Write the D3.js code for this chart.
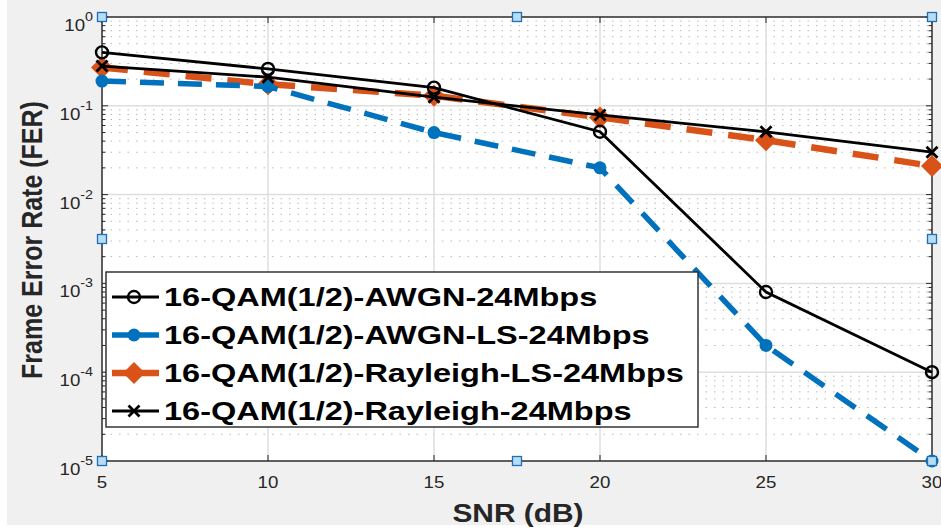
<!DOCTYPE html>
<html>
<head>
<meta charset="utf-8">
<script src="https://d3js.org/d3.v7.min.js"></script>
<style>
  body { margin: 0; background: #fff; }
  text { font-family: "Liberation Sans", Arial, sans-serif; }
</style>
</head>
<body>
<svg id="chart"></svg>
<script>
const snr = [5, 10, 15, 20, 25, 30];
const awgn = [0.40, 0.26, 0.16, 0.051, 8e-4, 1e-4];
const awgnLS = [0.19, 0.165, 0.05, 0.02, 2e-4, 1e-5];
const rayleighLS = [0.27, 0.175, 0.13, 0.074, 0.041, 0.021];
const rayleigh = [0.28, 0.21, 0.125, 0.079, 0.051, 0.03];
const seriesNames = [
  "16-QAM(1/2)-AWGN-24Mbps",
  "16-QAM(1/2)-AWGN-LS-24Mbps",
  "16-QAM(1/2)-Rayleigh-LS-24Mbps",
  "16-QAM(1/2)-Rayleigh-24Mbps"
];
const xTicks = [5, 10, 15, 20, 25, 30];
const yDecades = [0, -1, -2, -3, -4, -5];

const width = 941, height = 529;
const svg = d3.select("#chart").attr("width", width).attr("height", height);

// figure background
svg.append("rect").attr("x", 7).attr("y", 0).attr("width", width - 7).attr("height", 525).attr("fill", "#f0f0f0");

const pL = 102, pR = 932, pT = 17, pB = 461;
const x = d3.scaleLinear().domain([5, 30]).range([pL, pR]);
const y = d3.scaleLog().domain([1e-5, 1]).range([pB, pT]);

// the source picture is stretched sideways, so text gets a horizontal scale
function stretchedText(g, tx, ty, sx, rot) {
  return g.append("text").attr("transform", `translate(${tx},${ty})${rot ? ` rotate(${rot})` : ""} scale(${rot ? 1 : sx},${rot ? sx : 1})`);
}

svg.append("rect").attr("x", pL).attr("y", pT).attr("width", pR - pL).attr("height", pB - pT).attr("fill", "#fff");

// minor grid (dotted)
const minors = [];
for (let e = -5; e < 0; e++) for (let k = 2; k <= 9; k++) minors.push(k * Math.pow(10, e));
svg.append("g").selectAll("line").data(minors).join("line")
  .attr("x1", pL).attr("x2", pR)
  .attr("y1", d => y(d)).attr("y2", d => y(d))
  .attr("stroke", "#b8b8b8").attr("stroke-width", 1).attr("stroke-dasharray", "1.5,7");

// major grid
svg.append("g").selectAll("line").data(yDecades).join("line")
  .attr("x1", pL).attr("x2", pR)
  .attr("y1", d => y(Math.pow(10, d))).attr("y2", d => y(Math.pow(10, d)))
  .attr("stroke", "#dedede").attr("stroke-width", 1.5);
svg.append("g").selectAll("line").data(xTicks).join("line")
  .attr("y1", pT).attr("y2", pB)
  .attr("x1", d => x(d)).attr("x2", d => x(d))
  .attr("stroke", "#dedede").attr("stroke-width", 1.5);

// axes (box with ticks on all sides)
const axisColor = "#262626";
const tickLen = 6;
const ticksG = svg.append("g").attr("stroke", axisColor).attr("stroke-width", 1);
xTicks.forEach(t => {
  ticksG.append("line").attr("x1", x(t)).attr("x2", x(t)).attr("y1", pB).attr("y2", pB - tickLen);
  ticksG.append("line").attr("x1", x(t)).attr("x2", x(t)).attr("y1", pT).attr("y2", pT + tickLen);
});
yDecades.forEach(d => {
  const yy = y(Math.pow(10, d));
  ticksG.append("line").attr("x1", pL).attr("x2", pL + tickLen).attr("y1", yy).attr("y2", yy);
  ticksG.append("line").attr("x1", pR).attr("x2", pR - tickLen).attr("y1", yy).attr("y2", yy);
});
minors.forEach(m => {
  const yy = y(m);
  ticksG.append("line").attr("x1", pL).attr("x2", pL + 3.5).attr("y1", yy).attr("y2", yy);
  ticksG.append("line").attr("x1", pR).attr("x2", pR - 3.5).attr("y1", yy).attr("y2", yy);
});
svg.append("rect").attr("x", pL).attr("y", pT).attr("width", pR - pL).attr("height", pB - pT)
  .attr("fill", "none").attr("stroke", axisColor).attr("stroke-width", 1.4);

// tick labels
const tl = svg.append("g").attr("fill", axisColor).attr("font-size", 17);
xTicks.forEach(t => {
  stretchedText(tl, x(t), pB + 27, 1.1).attr("text-anchor", "middle").text(t);
});
yDecades.forEach(d => {
  const t = stretchedText(tl, pL - 9, y(Math.pow(10, d)) + 14, 1.1).attr("text-anchor", "end");
  t.append("tspan").text("10");
  t.append("tspan").attr("font-size", 13).attr("dy", -10).text(d);
});

// axis titles
stretchedText(svg, 518, 522, 1.15).attr("text-anchor", "middle")
  .attr("font-size", 26).attr("font-weight", "bold").attr("fill", axisColor).text("SNR (dB)");
stretchedText(svg, 42, 240, 1.2, -90).attr("text-anchor", "middle")
  .attr("font-size", 25).attr("font-weight", "bold").attr("fill", axisColor)
  .text("Frame Error Rate (FER)");

// series
const series = [
  { name: seriesNames[0], vals: awgn, color: "#000", width: 2.8, dash: null, marker: "circle" },
  { name: seriesNames[1], vals: awgnLS, color: "#0072BD", width: 5.5, dash: "24,14", marker: "dot" },
  { name: seriesNames[2], vals: rayleighLS, color: "#D95319", width: 6.5, dash: "26,16", marker: "diamond" },
  { name: seriesNames[3], vals: rayleigh, color: "#000", width: 2.8, dash: null, marker: "x" }
];

function drawMarker(g, type, color, cx, cy) {
  if (type === "circle") {
    g.append("circle").attr("cx", cx).attr("cy", cy).attr("r", 6)
      .attr("fill", "none").attr("stroke", color).attr("stroke-width", 2.4);
  } else if (type === "dot") {
    g.append("circle").attr("cx", cx).attr("cy", cy).attr("r", 6.5).attr("fill", color);
  } else if (type === "diamond") {
    const s = 11;
    g.append("path").attr("d", `M${cx},${cy - s}L${cx + s},${cy}L${cx},${cy + s}L${cx - s},${cy}Z`).attr("fill", color);
  } else if (type === "x") {
    const s = 5.5;
    g.append("path").attr("d", `M${cx - s},${cy - s}L${cx + s},${cy + s}M${cx - s},${cy + s}L${cx + s},${cy - s}`)
      .attr("stroke", color).attr("stroke-width", 2.8);
  }
}

const line = d3.line().x(d => x(d[0])).y(d => y(d[1]));
const plotG = svg.append("g");
[2, 1, 0, 3].forEach(i => {
  const s = series[i];
  const pts = snr.map((v, j) => [v, s.vals[j]]);
  plotG.append("path").attr("d", line(pts)).attr("fill", "none")
    .attr("stroke", s.color).attr("stroke-width", s.width)
    .attr("stroke-dasharray", s.dash);
  pts.forEach(p => drawMarker(plotG, s.marker, s.color, x(p[0]), y(p[1])));
});

// legend
const lg = svg.append("g");
lg.append("rect").attr("x", 106).attr("y", 272).attr("width", 592).attr("height", 155)
  .attr("fill", "#fff").attr("stroke", axisColor).attr("stroke-width", 1.4);
series.forEach((s, i) => {
  const yy = 297 + i * 38;
  lg.append("line").attr("x1", 112).attr("x2", 159).attr("y1", yy).attr("y2", yy)
    .attr("stroke", s.color).attr("stroke-width", s.width);
  drawMarker(lg, s.marker, s.color, 134, yy);
  stretchedText(lg, 164, yy + 9, 1.3).attr("font-size", 25).attr("font-weight", "bold")
    .attr("fill", "#000").text(s.name);
});

// selection handles
const handles = [[pL, pT], [(pL + pR) / 2, pT], [pR, pT], [pL, (pT + pB) / 2], [pR, (pT + pB) / 2],
  [pL, pB], [(pL + pR) / 2, pB], [pR, pB]];
svg.append("g").selectAll("rect").data(handles).join("rect")
  .attr("x", d => d[0] - 4.5).attr("y", d => d[1] - 4.5).attr("width", 9).attr("height", 9)
  .attr("fill", "#b9dcf5").attr("stroke", "#1f6fb5").attr("stroke-width", 1.3);
</script>
</body>
</html>
